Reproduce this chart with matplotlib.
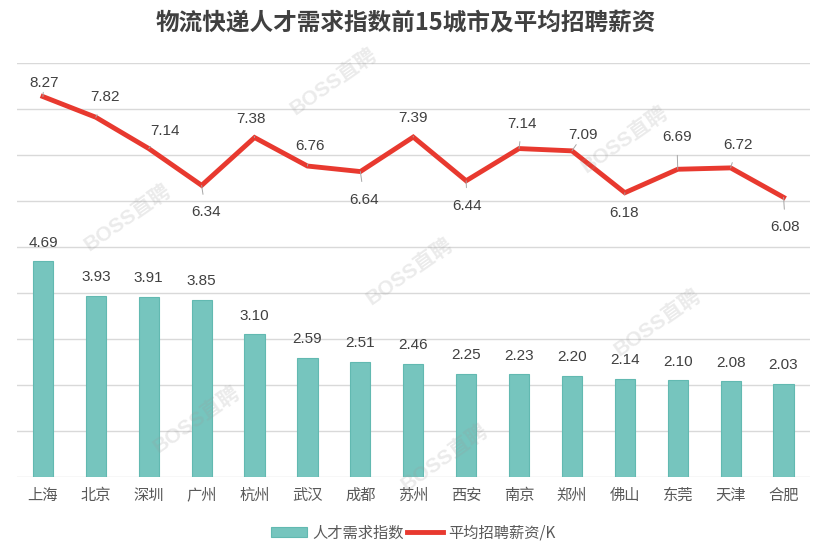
import matplotlib
matplotlib.use("Agg")
import matplotlib.pyplot as plt
import numpy as np

plt.rcParams['font.family'] = ['Noto Sans CJK SC', 'DejaVu Sans']

# The data
cities = ['上海', '北京', '深圳', '广州', '杭州', '武汉', '成都', '苏州',
          '西安', '南京', '郑州', '佛山', '东莞', '天津', '合肥']
demand_index = [4.69, 3.93, 3.91, 3.85, 3.10, 2.59, 2.51, 2.46,
                2.25, 2.23, 2.20, 2.14, 2.10, 2.08, 2.03]
salary_k = [8.27, 7.82, 7.14, 6.34, 7.38, 6.76, 6.64, 7.39,
            6.44, 7.14, 7.09, 6.18, 6.69, 6.72, 6.08]

title = '物流快递人才需求指数前15城市及平均招聘薪资'
bar_name = '人才需求指数'
line_name = '平均招聘薪资/K'
watermark = 'BOSS直聘'

# label offsets for the salary line (pixels, x right / y up)
salary_offsets = [(1, 14), (9, 20), (16, 18), (4, -27), (-4, 19), (3, 20),
                  (4, -28), (0, 19), (1, -25), (3, 25), (11, 16), (-1, -20),
                  (-1, 32), (7, 23), (2, -30)]

teal = '#76c5be'
red = '#e8392f'
text_col = '#404040'
num_font = 'Liberation Sans'

fig = plt.figure(figsize=(8.27, 5.56), dpi=100)
ax = fig.add_axes([16.5 / 827, 1 - 477 / 556, (810 - 16.5) / 827, (477 - 63) / 556])

x = np.arange(len(cities))
bars = ax.bar(x, demand_index, width=0.38, color=teal, edgecolor='#62b9b1',
              linewidth=0.8, zorder=2, label=bar_name)
line, = ax.plot(x, salary_k, color=red, linewidth=3.5, solid_joinstyle='miter',
                zorder=3, label=line_name)

for xi, v in zip(x, demand_index):
    ax.annotate('%.2f' % v, (xi, v), xytext=(0, 13.5), textcoords='offset points',
                ha='center', va='center', fontsize=11, color=text_col,
                family=num_font)

px = 72 / 100  # pixels to points
for xi, v, (dx, dy) in zip(x, salary_k, salary_offsets):
    ax.annotate('%.2f' % v, (xi, v), xytext=(dx * px, dy * px),
                textcoords='offset points', ha='center', va='center',
                fontsize=11, color=text_col, zorder=4, family=num_font,
                arrowprops=dict(arrowstyle='-', color='#a6a6a6', lw=0.7,
                                shrinkA=6, shrinkB=0))

ax.set_xlim(-0.5, len(cities) - 0.5)
ax.set_ylim(0, 9)
ax.set_yticks(np.arange(0, 10, 1))
ax.set_yticklabels([])
ax.set_xticks(x)
ax.set_xticklabels(cities, fontsize=11, color='#595959')
ax.tick_params(axis='both', length=0, pad=7)
ax.grid(axis='y', color='#d9d9d9', linewidth=1, zorder=0)
ax.set_axisbelow(True)
for s in ax.spines.values():
    s.set_visible(False)

fig.text(406 / 827, 1 - 22 / 556, title, ha='center', va='center', fontsize=17,
         fontweight='bold', color=text_col)

# watermarks
for wx, wy in [(334, 82), (625, 140), (128, 218), (410, 272),
               (197, 420), (658, 323), (445, 458)]:
    fig.text(wx / 827, 1 - wy / 556, watermark, ha='center', va='center',
             rotation=35, fontsize=15, fontweight='bold', color='#9a9a9a',
             alpha=0.2, zorder=10, family=['Liberation Sans', 'Noto Sans CJK SC'])

fig.legend([bars, line], [bar_name, line_name], loc='center',
           bbox_to_anchor=(413 / 827, 1 - 533 / 556), ncol=2,
           frameon=False, fontsize=11, handlelength=2.4, handleheight=0.6,
           handletextpad=0.3, columnspacing=0.2, labelcolor='#595959')

fig.savefig('out.png', dpi=100)
